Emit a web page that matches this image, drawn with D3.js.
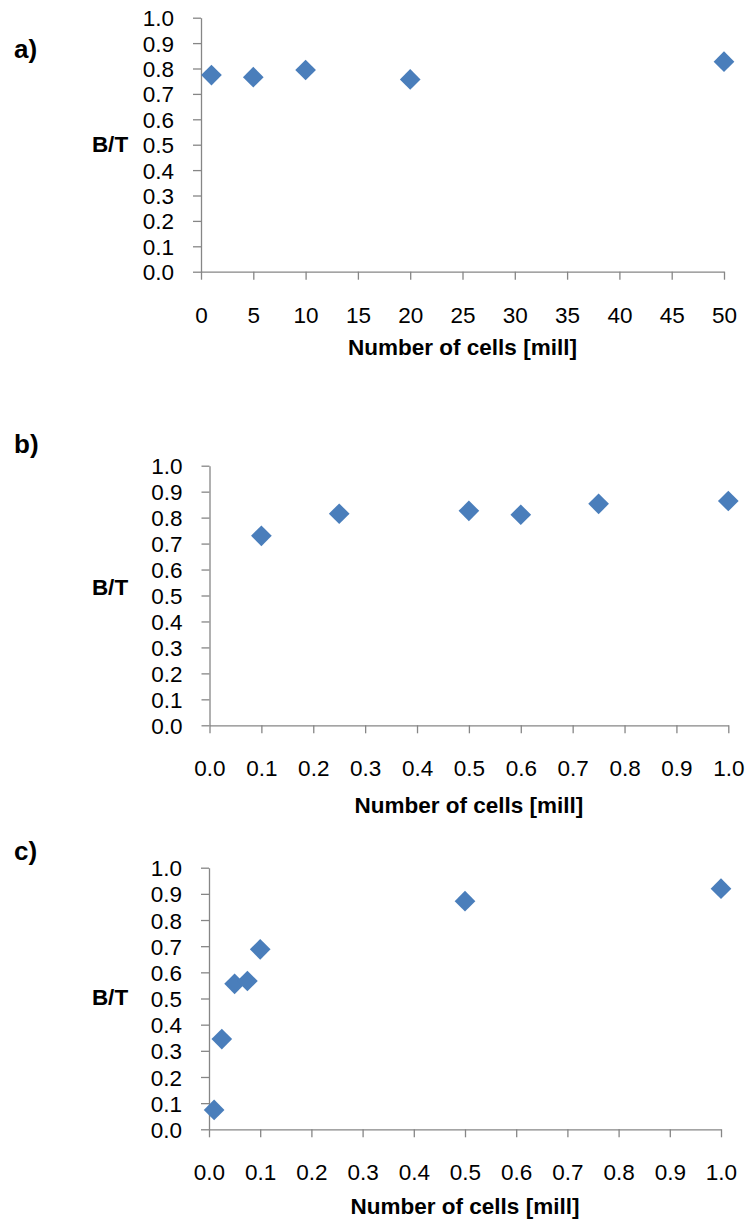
<!DOCTYPE html>
<html>
<head>
<meta charset="utf-8">
<script src="https://cdn.jsdelivr.net/npm/d3@7"></script>
<style>
  html, body { margin: 0; padding: 0; background: #fff; }
  svg { display: block; }
  .axis path, .axis line { stroke: #868686; stroke-width: 1.3px; }
  .axis text { font-family: "Liberation Sans", Arial, sans-serif; font-size: 22.5px; fill: #000; }
  .lbl { font-family: "Liberation Sans", Arial, sans-serif; font-weight: bold; fill: #000; }
</style>
</head>
<body>
<script>
// Panel a: cells in millions, wide range
const cellsA = [1, 5, 10, 20, 50];
const ratioA = [0.774, 0.766, 0.794, 0.757, 0.827];
// Panel b: up to one million cells
const cellsB = [0.1, 0.25, 0.5, 0.6, 0.75, 1.0];
const ratioB = [0.730, 0.815, 0.826, 0.811, 0.853, 0.864];
// Panel c: low cell numbers
const cellsC = [0.01, 0.025, 0.05, 0.075, 0.1, 0.5, 1.0];
const ratioC = [0.074, 0.345, 0.556, 0.567, 0.688, 0.872, 0.920];

const ticksY = d3.range(0, 11).map(i => i / 10);
const ticksXA = d3.range(0, 11).map(i => i * 5);
const ticksXBC = d3.range(0, 11).map(i => i / 10);

const panels = [
  { tag: "a)", xs: cellsA, ys: ratioA, xDomain: [0, 50], xTicks: ticksXA, xFmt: d3.format("d"),
    left: 201, right: 724, top: 17.7, bottom: 271.7, tagY: 58, ylabY: 151.5, titleDy: 75 },
  { tag: "b)", xs: cellsB, ys: ratioB, xDomain: [0, 1], xTicks: ticksXBC, xFmt: d3.format(".1f"),
    left: 209.5, right: 728.3, top: 465.7, bottom: 725.3, tagY: 453, ylabY: 595, titleDy: 80 },
  { tag: "c)", xs: cellsC, ys: ratioC, xDomain: [0, 1], xTicks: ticksXBC, xFmt: d3.format(".1f"),
    left: 209, right: 721, top: 867.7, bottom: 1129.3, tagY: 860, ylabY: 1005, titleDy: 77 }
];

const svg = d3.select("body").append("svg")
  .attr("width", 747).attr("height", 1223);

const diamond = d3.symbol().type(d3.symbolSquare).size(214);

panels.forEach(p => {
  const x = d3.scaleLinear().domain(p.xDomain).range([p.left, p.right]);
  const y = d3.scaleLinear().domain([0, 1]).range([p.bottom, p.top]);
  const g = svg.append("g");

  g.append("g").attr("class", "axis")
    .attr("transform", `translate(0,${p.bottom})`)
    .call(d3.axisBottom(x).tickValues(p.xTicks).tickFormat(p.xFmt)
      .tickSizeInner(8).tickSizeOuter(0).tickPadding(27));

  g.append("g").attr("class", "axis")
    .attr("transform", `translate(${p.left},0)`)
    .call(d3.axisLeft(y).tickValues(ticksY).tickFormat(d3.format(".1f"))
      .tickSizeInner(8).tickSizeOuter(0).tickPadding(19))
    .selectAll("text").attr("dy", "0.358em");

  g.append("text").attr("class", "lbl")
    .attr("x", 14).attr("y", p.tagY)
    .style("font-size", "26px").text(p.tag);

  g.append("text").attr("class", "lbl")
    .attr("x", 110).attr("y", p.ylabY).attr("text-anchor", "middle")
    .style("font-size", "22.5px").text("B/T");

  g.append("text").attr("class", "lbl")
    .attr("x", (p.left + p.right) / 2).attr("y", p.bottom + p.titleDy + 8)
    .attr("text-anchor", "middle")
    .style("font-size", "22.5px").text("Number of cells [mill]");

  g.append("g").selectAll("path")
    .data(p.xs.map((v, i) => [v, p.ys[i]]))
    .join("path")
    .attr("d", diamond)
    .attr("transform", d => `translate(${x(d[0])},${y(d[1])}) rotate(45)`)
    .attr("fill", "#4A7EBB");
});
</script>
</body>
</html>
